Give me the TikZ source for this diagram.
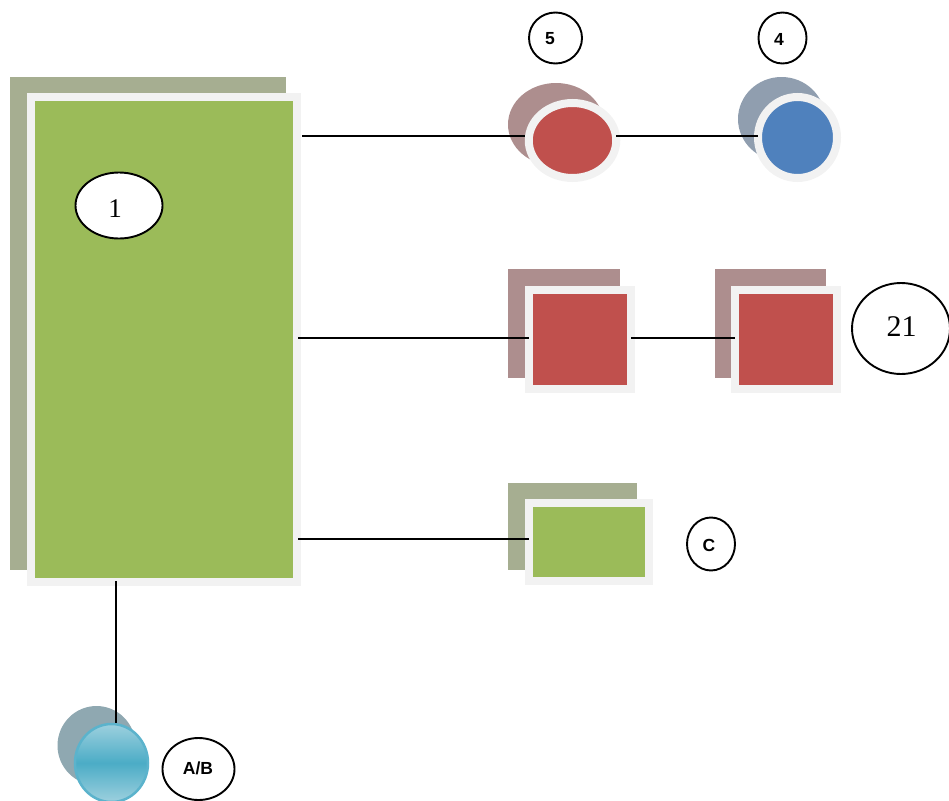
\documentclass[tikz,border=0pt]{standalone}
\usepackage{fontspec}
\setmainfont{Liberation Serif}
\setsansfont{Liberation Sans}
\usetikzlibrary{shapes.geometric}
\definecolor{framegray}{HTML}{F2F2F2}
\definecolor{mygreen}{HTML}{9BBB59}
\definecolor{myred}{HTML}{C0504D}
\definecolor{myblue}{HTML}{4F81BD}
\definecolor{shgreen}{HTML}{A6AE91}
\definecolor{shred}{HTML}{AD8E8E}
\definecolor{shblue}{HTML}{909EAF}
\definecolor{shteal}{HTML}{8FA8B1}
\definecolor{tealtop}{HTML}{9DD0DE}
\definecolor{tealmid}{HTML}{4BACC6}
\definecolor{tealline}{HTML}{5BB3CC}
\tikzset{
  sized/.style 2 args={minimum width=#1 pt,minimum height=#2 pt,inner sep=0pt},
  shadowbox/.style={rectangle,draw=none,fill=#1},
  shadowoval/.style={ellipse,draw=none,fill=#1},
  framedbox/.style={rectangle,draw=framegray,line width=8pt,fill=#1},
  framedoval/.style={ellipse,draw=framegray,line width=8pt,fill=#1},
  oval/.style={ellipse,draw=black,line width=1.9pt,fill=white},
  serifnum/.style={inner sep=0pt,font=\fontsize{#1}{#1}\selectfont},
  sanslabel/.style={inner sep=0pt,font=\sffamily\bfseries\fontsize{17.5}{17.5}\selectfont},
  conn/.style={draw=black,line width=1.6pt}
}
\begin{document}
\begin{tikzpicture}[x=1pt,y=-1pt]
\useasboundingbox (0,0) rectangle (949,800);
% shadows
\node[shadowbox=shgreen,sized={276}{493}] (mainsh) at (148,323.5) {};
\node[shadowoval=shred,sized={96}{83}] (o5sh) at (556,124.5) {};
\node[shadowoval=shblue,sized={87}{84}] (o4sh) at (781.5,119) {};
\node[shadowbox=shred,sized={112}{109}] (s1sh) at (564,323.5) {};
\node[shadowbox=shred,sized={111}{109}] (s2sh) at (770.5,323.5) {};
\node[shadowbox=shgreen,sized={129}{87}] (gsh) at (572.5,526.5) {};
\node[shadowoval=shteal,sized={78}{79}] (tsh) at (96.5,745.5) {};
% framed shapes
\node[framedbox=mygreen,sized={266}{485}] (main) at (164,339.5) {};
\node[framedoval=myred,sized={87.5}{75}] (o5) at (572.5,140.5) {};
\node[framedoval=myblue,sized={79}{81}] (o4) at (797.5,137.5) {};
\node[framedbox=myred,sized={102}{99}] (s1) at (580,339.5) {};
\node[framedbox=myred,sized={102}{99}] (s2) at (786,339.5) {};
\node[framedbox=mygreen,sized={120}{78}] (g) at (589,542) {};
\node[ellipse,draw=tealline,line width=2.5pt,top color=tealtop,bottom color=tealtop,middle color=tealmid,sized={73}{78}] (t) at (111.5,763) {};
% connectors
\draw[conn] ([xshift=1pt,yshift=203.5pt]main.east) -- ([yshift=4.5pt]o5.west);
\draw[conn] ([xshift=-4pt,yshift=4.5pt]o5.east) -- ([xshift=4pt,yshift=1.5pt]o4.west);
\draw[conn] ([xshift=-3pt,yshift=1.5pt]main.east) -- ([xshift=4pt,yshift=1.5pt]s1.west);
\draw[conn] ([xshift=-4pt,yshift=1.5pt]s1.east) -- ([xshift=4pt,yshift=1.5pt]s2.west);
\draw[conn] ([xshift=-3pt,yshift=-199.5pt]main.east) -- ([xshift=4pt,yshift=3pt]g.west);
\draw[conn] ([xshift=-48pt,yshift=5pt]main.south) -- ([xshift=4.5pt]t.north);
% labels
\node[oval,sized={87}{66}] (l1) at (119,205.5) {};
\node[serifnum=27] (n1) at (115,209) {1};
\node[oval,sized={53}{51}] (l5) at (555.5,38) {};
\node[sanslabel] (n5) at (550,39) {5};
\node[oval,sized={48}{51}] (l4) at (782.5,38) {};
\node[sanslabel] (n4) at (779,39) {4};
\node[oval,sized={98}{91}] (l21) at (901,328.5) {};
\node[serifnum=30] (n21) at (901.5,327) {21};
\node[oval,sized={48}{53}] (lc) at (711,544) {};
\node[sanslabel] (nc) at (709,545) {C};
\node[oval,sized={72}{62}] (lab) at (198.5,769) {};
\node[sanslabel] (nab) at (198,768) {A/B};
\end{tikzpicture}
\end{document}
